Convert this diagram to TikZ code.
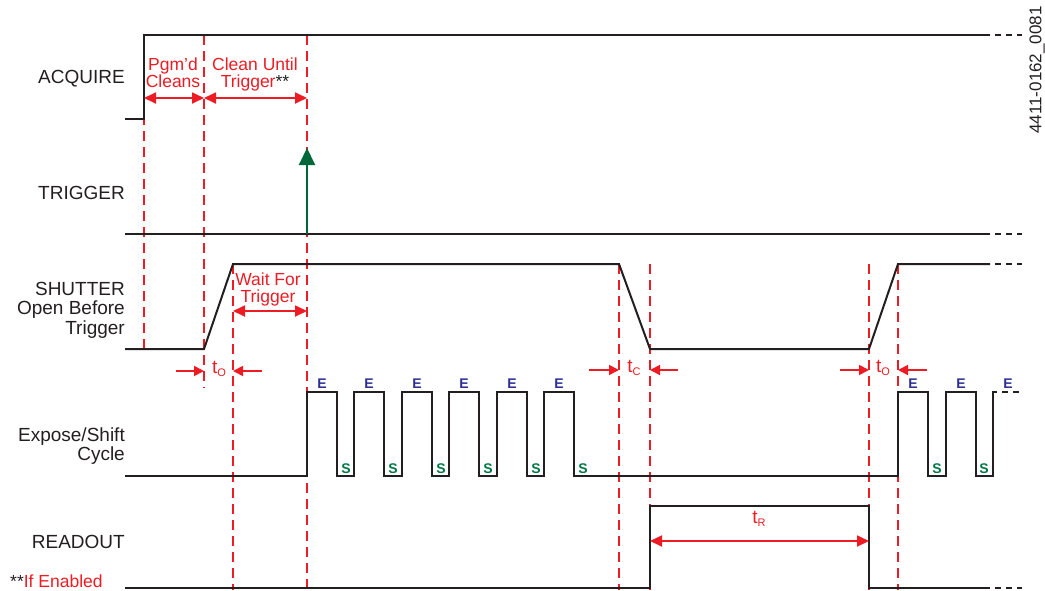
\documentclass[tikz,border=0pt]{standalone}
\usepackage{fontspec}
\setmainfont{Liberation Sans}
\usetikzlibrary{arrows.meta}
\definecolor{sred}{RGB}{237,28,36}
\definecolor{sblue}{RGB}{46,49,146}
\definecolor{sgreen}{RGB}{0,120,70}
\definecolor{agreen}{RGB}{0,104,56}
\definecolor{sblack}{RGB}{35,31,32}
\newcommand{\mylblfont}{\fontsize{19}{20}\selectfont}
\newcommand{\myrlblfont}{\fontsize{17.5}{17}\selectfont}
\newcommand{\mysubfont}{\fontsize{11}{11}\selectfont}
\newcommand{\myesfont}{\fontsize{14}{14}\selectfont\bfseries}
\newcommand{\tdelay}[1]{{\fontsize{19}{19}\selectfont t}\raisebox{-3.5pt}{\mysubfont #1}}
\begin{document}
\begin{tikzpicture}[x=1pt,y=-1pt,
  wave/.style={draw=sblack,line width=2pt,line join=miter},
  tail/.style={draw=sblack,line width=2pt,dash pattern=on 6pt off 5pt},
  guide/.style={draw=sred,line width=1.3pt,dash pattern=on 10pt off 6pt},
  dim/.style={draw=sred,line width=1.8pt,{Triangle[length=12pt,width=11pt]}-{Triangle[length=12pt,width=11pt]}},
  tmark/.style={draw=sred,line width=1.8pt,-{Triangle[length=10pt,width=10pt]}},
  sig/.style={font=\mylblfont,text=sblack,anchor=base east,inner sep=0pt},
  note/.style={font=\myrlblfont,text=sred,anchor=base,inner sep=0pt},
  elbl/.style={font=\myesfont,text=sblue,anchor=base,inner sep=0pt},
  slbl/.style={font=\myesfont,text=sgreen,anchor=base,inner sep=0pt},
]
\useasboundingbox (0,0) rectangle (1045,590);

% red dashed guide lines
\draw[guide] (144,35) coordinate (ga) -- (144,349) coordinate (gab);
\draw[guide] (204,35) coordinate (gb) -- (204,388) coordinate (gbb);
\draw[guide] (233,264) coordinate (gc) -- (233,590) coordinate (gcb);
\draw[guide] (307,35) coordinate (gd) -- (307,590) coordinate (gdb);
\draw[guide] (619,264) coordinate (ge) -- (619,590) coordinate (geb);
\draw[guide] (650,264) coordinate (gf) -- (650,590) coordinate (gfb);
\draw[guide] (869,264) coordinate (gg) -- (869,590) coordinate (ggb);
\draw[guide] (898,264) coordinate (gh) -- (898,590) coordinate (ghb);

% ACQUIRE
\draw[wave] (125,119) -- (144,119) -- (144,35) -- (990,35);
\draw[tail] (995,35) -- (1022,35);
% TRIGGER
\draw[wave] (125,234) -- (990,234);
\draw[tail] (995,234) -- (1022,234);
\coordinate (trigbase) at (307,234);
\coordinate (trigtip) at (307,148);
\draw[agreen,line width=2pt,-{Triangle[length=17pt,width=16pt]}] (trigbase) -- (trigtip);
% SHUTTER
\draw[wave] (125,349) -- (204,349) -- (233,264) -- (619,264) -- (650,349) -- (869,349) -- (898,264) -- (990,264);
\draw[tail] (995,264) -- (1022,264);
% EXPOSE / SHIFT
\draw[wave] (125,476) -- (307,476) -- (307,392) -- (337,392) -- (337,476) -- (354,476) -- (354,392) -- (384,392) -- (384,476)
  -- (402,476) -- (402,392) -- (432,392) -- (432,476) -- (449,476) -- (449,392) -- (479,392) -- (479,476)
  -- (497,476) -- (497,392) -- (527,392) -- (527,476) -- (544,476) -- (544,392) -- (574,392) -- (574,476)
  -- (898,476) -- (898,392) -- (928,392) -- (928,476) -- (946,476) -- (946,392) -- (976,392) -- (976,476)
  -- (993,476) -- (993,392) -- (997,392);
\draw[tail] (1002,392) -- (1020,392);
% READOUT
\draw[wave] (125,588) -- (650,588) -- (650,506) -- (869,506) -- (869,588) -- (990,588);
\draw[tail] (995,588) -- (1022,588);

% dimension arrows
\coordinate (pa) at (144,98); \coordinate (pb) at (204,98); \coordinate (pc) at (307,98);
\draw[dim] (pa) -- (pb);
\draw[dim] (pb) -- (pc);
\coordinate (wa) at (233,311); \coordinate (wb) at (307,311);
\draw[dim] (wa) -- (wb);
\coordinate (ra) at (650,541); \coordinate (rb) at (869,541);
\draw[dim] (ra) -- (rb);
% timing marks
\coordinate (m1a) at (176,371); \coordinate (m1b) at (204,371);
\coordinate (m2a) at (262,371); \coordinate (m2b) at (233,371);
\coordinate (m3a) at (589,370); \coordinate (m3b) at (619,370);
\coordinate (m4a) at (678,370); \coordinate (m4b) at (650,370);
\coordinate (m5a) at (840,370); \coordinate (m5b) at (869,370);
\coordinate (m6a) at (927,370); \coordinate (m6b) at (898,370);
\draw[tmark] (m1a) -- (m1b);
\draw[tmark] (m2a) -- (m2b);
\draw[tmark] (m3a) -- (m3b);
\draw[tmark] (m4a) -- (m4b);
\draw[tmark] (m5a) -- (m5b);
\draw[tmark] (m6a) -- (m6b);

% signal labels
\node[sig] (lacq) at (125,83) {ACQUIRE};
\node[sig] (ltrig) at (125,199) {TRIGGER};
\node[sig] (lsh1) at (125,295) {SHUTTER};
\node[sig] (lsh2) at (125,314) {Open Before};
\node[sig] (lsh3) at (125,334) {Trigger};
\node[sig] (lex1) at (125,441) {Expose/Shift};
\node[sig] (lex2) at (125,460) {Cycle};
\node[sig] (lro) at (125,548) {READOUT};

% red notes
\node[note] (n1) at (173,70) {Pgm’d};
\node[note] (n2) at (173,87) {Cleans};
\node[note] (n3) at (255,70) {Clean Until};
\node[note] (n4) at (255,87) {Trigger{\color{sblack}**}};
\node[note] (n5) at (268,285) {Wait For};
\node[note] (n6) at (268,302) {Trigger};
\node[note] (to1) at (219,373) {\tdelay{O}};
\node[note] (tc1) at (634,372) {\tdelay{C}};
\node[note] (to2) at (883,372) {\tdelay{O}};
\node[note] (tr1) at (759,523) {\tdelay{R}};
\node[note,anchor=base west] (nen) at (10,587) {{\color{sblack}**}If Enabled};

% E / S labels
\foreach \x [count=\i] in {322,369,417,464,512,559,913,961,1008}
  \node[elbl] (e\i) at (\x,388) {E};
\foreach \x [count=\i] in {346,393,441,488,536,583,937,984}
  \node[slbl] (s\i) at (\x,473) {S};

% figure id
\node[rotate=90,font=\fontsize{17}{17}\selectfont,text=sblack,inner sep=0pt] (fid) at (1037,70) {4411-0162\_0081};
\end{tikzpicture}
\end{document}
